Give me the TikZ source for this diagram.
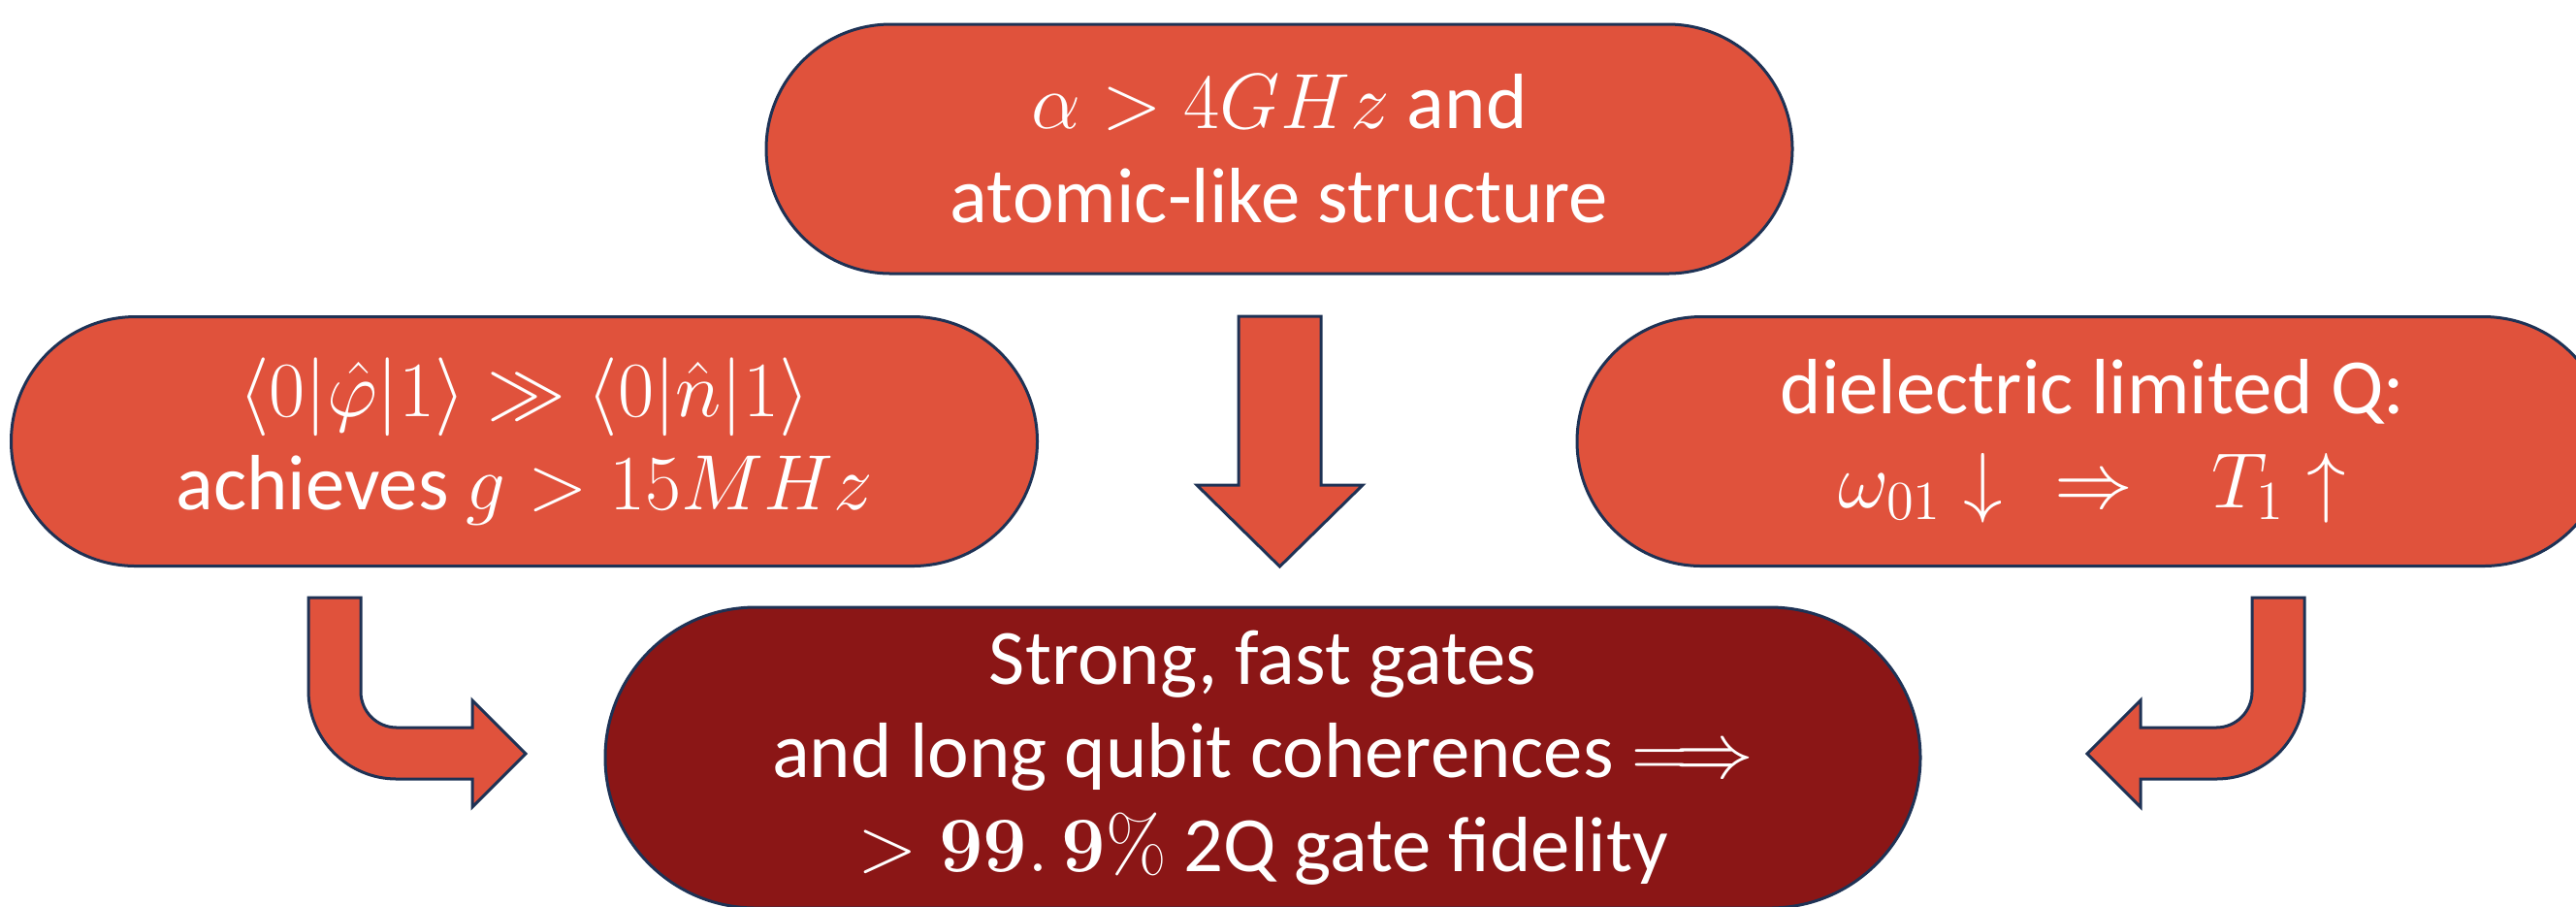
\RequirePackage{fix-cm}
\documentclass[tikz,border=0pt]{standalone}
\usepackage{amsmath,amssymb}
\usepackage[no-math]{fontspec}
\setmainfont{Carlito}
\definecolor{brick}{RGB}{224,82,60}
\definecolor{wine}{RGB}{139,22,22}
\definecolor{navy}{RGB}{30,50,85}
\tikzset{
  pill/.style={draw=navy, line width=0.03cm, fill=brick, text=white,
    align=center, inner sep=0pt, font=\fontsize{23}{27.5}\selectfont},
  smallpill/.style={pill, minimum width=10.58cm, minimum height=2.57cm, rounded corners=1.285cm},
  bigpill/.style={pill, fill=wine, minimum width=13.56cm, minimum height=3.10cm, rounded corners=1.55cm},
  blockarrow/.style={draw=navy, line width=0.03cm, fill=brick, line join=miter}
}
\begin{document}
\begin{tikzpicture}
\useasboundingbox (0,0) rectangle (26.56,-9.34);
\clip (0,0) rectangle (26.56,-9.34);

% the three premises and the conclusion
\node[smallpill] (anh) at (13.19,-1.535) {$\alpha > 4GHz$ and\\atomic-like structure};
\node[smallpill] (coup) at (5.405,-4.55) {$\langle 0|\hat{\varphi}|1\rangle \gg \langle 0|\hat{n}|1\rangle$\\achieves $g > 15MHz$};
\node[smallpill, minimum width=10.63cm] (diel) at (21.575,-4.55) {dielectric limited Q:\\$\omega_{01}\mkern5mu{\downarrow}\mkern12mu{\Rightarrow}\quad T_1\uparrow$};
\node[bigpill] (goal) at (13.02,-7.81) {Strong, fast gates\\and long qubit coherences $\Longrightarrow$\\$>\mathbf{99.\,9\%}$ 2Q gate fidelity};

% straight block arrow below the top premise
\draw[blockarrow] (12.77,-3.26) -- (13.62,-3.26) -- (13.62,-5.00) -- (14.05,-5.00)
  -- (13.195,-5.84) -- (12.34,-5.00) -- (12.77,-5.00) -- cycle;

% bent block arrow on the left
\draw[blockarrow] (3.18,-6.16) -- (3.72,-6.16) -- (3.72,-7.13)
  arc[start angle=180, end angle=270, radius=0.37cm]
  -- (4.87,-7.50) -- (4.87,-7.22) -- (5.42,-7.77) -- (4.87,-8.32) -- (4.87,-8.03)
  -- (4.09,-8.03) arc[start angle=270, end angle=180, radius=0.91cm] -- cycle;

% bent block arrow on the right
\draw[blockarrow] (23.76,-6.16) -- (23.22,-6.16) -- (23.22,-7.13)
  arc[start angle=0, end angle=-90, radius=0.37cm]
  -- (22.07,-7.50) -- (22.07,-7.22) -- (21.52,-7.77) -- (22.07,-8.32) -- (22.07,-8.03)
  -- (22.85,-8.03) arc[start angle=-90, end angle=0, radius=0.91cm] -- cycle;
\end{tikzpicture}
\end{document}
